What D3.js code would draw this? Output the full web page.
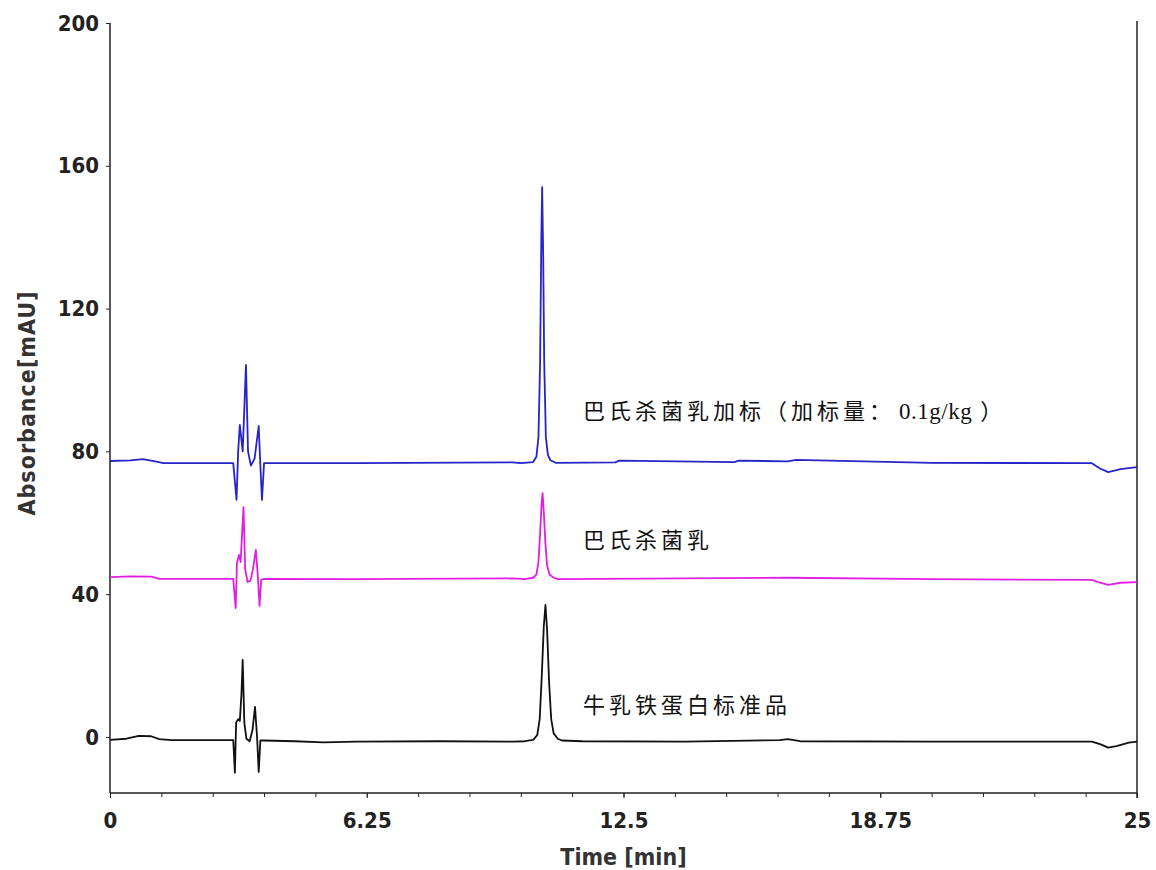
<!DOCTYPE html>
<html>
<head>
<meta charset="utf-8">
<script src="https://cdn.jsdelivr.net/npm/d3@7"></script>
<style>
  body { margin: 0; background: #fff; }
  .tick text { font-family: "DejaVu Sans Condensed", "DejaVu Sans", sans-serif; font-weight: bold; font-size: 22px; fill: #222; }
  .label { font-family: "Noto Sans CJK SC", sans-serif; font-size: 22px; fill: #111; letter-spacing: 4px; }
  .label .ascii { font-family: "Liberation Serif", serif; font-size: 23px; letter-spacing: 0.5px; }
  .title { font-family: "DejaVu Sans Condensed", "DejaVu Sans", sans-serif; font-weight: bold; fill: #333; }
</style>
</head>
<body>
<svg id="chart"></svg>
<script>
// x ticks, y ticks
var xTicks = [0, 6.25, 12.5, 18.75, 25];
var xMinorTicks = [0, 1.25, 2.5, 3.75, 5, 6.25, 7.5, 8.75, 10, 11.25, 12.5, 13.75, 15, 16.25, 17.5, 18.75, 20, 21.25, 22.5, 23.75, 25];
var yTicks = [0, 40, 80, 120, 160, 200];

// Black trace: lactoferrin standard
var stdTime = [0, 0.4, 0.7, 1.0, 1.2, 1.5, 3.0, 3.04, 3.07, 3.12, 3.16, 3.2, 3.23, 3.27, 3.32, 3.4, 3.47, 3.53, 3.58, 3.62, 3.66, 3.75, 4.5, 5.2, 6.0, 8.0, 9.8, 10.1, 10.3, 10.4, 10.46, 10.51, 10.56, 10.6, 10.64, 10.69, 10.74, 10.8, 10.9, 11.0, 11.5, 14.0, 16.3, 16.5, 16.8, 20.0, 23.9, 24.1, 24.3, 24.5, 24.8, 25];
var stdValue = [-0.8, -0.5, 0.3, 0.2, -0.6, -0.9, -0.9, -10, 4, 5, 4.5, 12, 21.6, 4, -0.5, -1.2, 2, 8.4, 0, -9.8, -1, -1, -1.2, -1.5, -1.3, -1.2, -1.3, -1.2, -0.8, 0.5, 5, 17, 31, 37, 30, 15, 5, 1, -0.5, -1.0, -1.2, -1.3, -0.9, -0.6, -1.2, -1.3, -1.3, -2, -3, -2.6, -1.6, -1.3];

// Magenta trace: pasteurized milk
var milkTime = [0, 0.5, 1.0, 1.2, 3.0, 3.06, 3.09, 3.14, 3.18, 3.22, 3.25, 3.29, 3.35, 3.42, 3.48, 3.55, 3.6, 3.64, 3.68, 3.75, 6.0, 9.8, 10.1, 10.3, 10.38, 10.43, 10.47, 10.51, 10.53, 10.56, 10.6, 10.64, 10.7, 10.8, 10.9, 12.0, 16.5, 20.0, 23.9, 24.1, 24.3, 24.6, 25];
var milkValue = [44.8, 45.0, 44.9, 44.3, 44.3, 36.1, 48.7, 51, 49, 58, 64.4, 47, 43.4, 43.8, 47, 52.4, 45, 36.7, 44, 44.3, 44.2, 44.4, 44.2, 44.6, 45.5, 49, 57, 66, 68.3, 63, 54, 48, 45.5, 44.6, 44.2, 44.3, 44.6, 44.2, 44.0, 43.2, 42.6, 43.2, 43.4];

// Blue trace: spiked pasteurized milk (0.1 g/kg)
var spikeTime = [0, 0.5, 0.8, 1.1, 1.3, 3.0, 3.08, 3.12, 3.16, 3.23, 3.27, 3.31, 3.36, 3.43, 3.52, 3.62, 3.66, 3.7, 3.75, 6.0, 9.8, 10.0, 10.3, 10.38, 10.43, 10.47, 10.5, 10.52, 10.545, 10.57, 10.61, 10.66, 10.72, 10.85, 12.3, 12.4, 15.2, 15.3, 16.5, 16.7, 20.0, 23.9, 24.1, 24.3, 24.6, 25];
var spikeValue = [77.3, 77.5, 77.8, 77.2, 76.7, 76.7, 66.4, 80, 87.4, 80, 92, 104.2, 80, 76, 78, 87.1, 76, 66.4, 76.7, 76.7, 76.9, 76.7, 77.0, 78.5, 84, 105, 140, 154, 135, 105, 84, 79, 77.5, 76.8, 76.9, 77.4, 77.0, 77.4, 77.2, 77.6, 76.8, 76.7, 75.2, 74.2, 75.0, 75.6];

var traces = [
    {time: spikeTime, value: spikeValue, color: "#2424c8", cjk: "巴氏杀菌乳加标（加标量：", ascii: "0.1g/kg", tail: "）", labelY: 89},
    {time: milkTime, value: milkValue, color: "#e31ee3", cjk: "巴氏杀菌乳", ascii: "", tail: "", labelY: 53},
    {time: stdTime, value: stdValue, color: "#111111", cjk: "牛乳铁蛋白标准品", ascii: "", tail: "", labelY: 6.6}
];

var width = 1156, height = 870;
var margin = {left: 110, right: 19, top: 23, bottom: 77};

var svg = d3.select("#chart")
    .attr("width", width)
    .attr("height", height);

var x = d3.scaleLinear()
    .domain([0, 25])
    .range([margin.left, width - margin.right]);

var y = d3.scaleLinear()
    .domain([-15.7, 200])
    .range([height - margin.bottom, margin.top]);

// Axes
var xAxis = svg.append("g")
    .attr("transform", "translate(0," + (height - margin.bottom) + ")")
    .call(d3.axisBottom(x).tickValues(xTicks).tickSize(5).tickPadding(14)
        .tickFormat(function(d) { return d; }));

svg.append("g")
    .attr("transform", "translate(0," + (height - margin.bottom) + ")")
    .call(d3.axisBottom(x).tickValues(xMinorTicks).tickSize(4).tickFormat(""))
    .select(".domain").remove();

var yAxis = svg.append("g")
    .attr("transform", "translate(" + margin.left + ",0)")
    .call(d3.axisLeft(y).tickValues(yTicks).tickSize(4).tickPadding(7));

svg.selectAll(".domain").attr("stroke", "#222").attr("stroke-width", 1.5);
yAxis.select(".domain").attr("d", "M0," + y(200) + "V" + (height - margin.bottom));
xAxis.select(".domain").attr("d", "M" + margin.left + ",0H" + (width - margin.right));
svg.selectAll(".tick line").attr("stroke", "#222");

// right border
svg.append("line")
    .attr("x1", x(25)).attr("x2", x(25))
    .attr("y1", y(200) - 2).attr("y2", height - margin.bottom + 5)
    .attr("stroke", "#222").attr("stroke-width", 1.5);

// Axis titles
svg.append("text")
    .attr("class", "title")
    .attr("x", (x(0) + x(25)) / 2)
    .attr("y", 865)
    .attr("text-anchor", "middle")
    .style("font-size", "23px")
    .text("Time [min]");

svg.append("text")
    .attr("class", "title")
    .attr("transform", "translate(35," + 403 + ") rotate(-90)")
    .attr("text-anchor", "middle")
    .style("font-size", "23px")
    .style("letter-spacing", "1px")
    .text("Absorbance[mAU]");

// Traces
var line = d3.line()
    .x(function(d) { return x(d[0]); })
    .y(function(d) { return y(d[1]); });

traces.forEach(function(tr) {
    var pts = tr.time.map(function(t, i) { return [t, tr.value[i]]; });
    svg.append("path")
        .datum(pts)
        .attr("d", line)
        .attr("fill", "none")
        .attr("stroke", tr.color)
        .attr("stroke-width", 1.8)
        .attr("stroke-linejoin", "round");
    var txt = svg.append("text")
        .attr("class", "label")
        .attr("x", 583)
        .attr("y", y(tr.labelY));
    txt.append("tspan").text(tr.cjk);
    if (tr.ascii) {
        txt.append("tspan").attr("class", "ascii").attr("dx", 4).text(tr.ascii);
        txt.append("tspan").attr("dx", 8).text(tr.tail);
    }
});
</script>
</body>
</html>
